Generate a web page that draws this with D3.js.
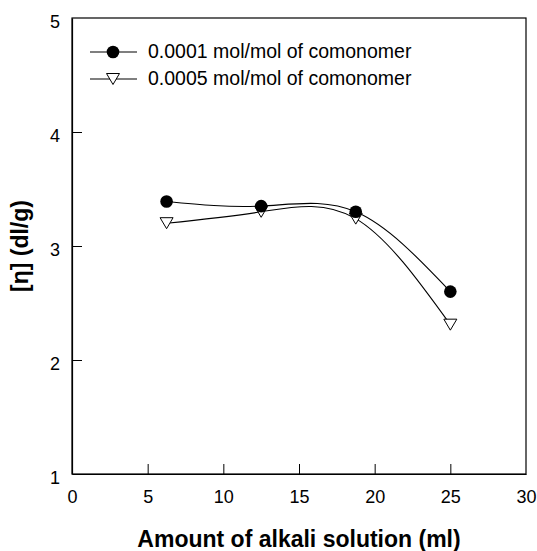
<!DOCTYPE html>
<html><head><meta charset="utf-8">
<script src="https://cdn.jsdelivr.net/npm/d3@7"></script>
<style>body{margin:0;background:#fff}svg{display:block}text{font-family:"Liberation Sans",Arial,sans-serif;fill:#000}</style>
</head><body><svg id="c" width="537" height="551"></svg>
<script>
const xValues = [6.25, 12.5, 18.75, 25];
const series1Name = "0.0001 mol/mol of comonomer";
const series1 = [3.39, 3.35, 3.30, 2.60];
const series2Name = "0.0005 mol/mol of comonomer";
const series2 = [3.20, 3.30, 3.24, 2.31];
const xTicks = [0, 5, 10, 15, 20, 25, 30];
const yTicks = [1, 2, 3, 4, 5];
const xTitle = "Amount of alkali solution (ml)";
const yTitle = "[η] (dl/g)";

const svg = d3.select("#c");
const L = 72, R = 526, T = 18, B = 474;
const x = d3.scaleLinear().domain([0, 30]).range([L, R]);
const y = d3.scaleLinear().domain([1, 5]).range([B, T]);

svg.append("rect").attr("x", L).attr("y", T).attr("width", R - L).attr("height", B - T)
  .attr("fill", "none").attr("stroke", "#000").attr("stroke-width", 1.2);

const xAxis = svg.append("g").attr("transform", `translate(0,${B})`)
  .call(d3.axisBottom(x).tickValues(xTicks).tickFormat(d3.format("d")).tickSizeInner(-10).tickSizeOuter(0).tickPadding(16));
const yAxis = svg.append("g").attr("transform", `translate(${L},0)`)
  .call(d3.axisLeft(y).tickValues(yTicks).tickFormat(d3.format("d")).tickSizeInner(-10).tickSizeOuter(0).tickPadding(12));
[xAxis, yAxis].forEach(g => {
  g.select(".domain").attr("stroke", "#000").attr("stroke-width", 1.2);
  g.selectAll(".tick line").attr("stroke", "#000").attr("stroke-width", 1);
  g.selectAll(".tick text").attr("font-size", 18).attr("font-family", "Liberation Sans, Arial, sans-serif");
});
yAxis.selectAll(".tick text").attr("dy", "0.5em");
xAxis.selectAll(".tick").filter(d => d === 0 || d === 30).select("line").remove();
yAxis.selectAll(".tick").filter(d => d === 1 || d === 5).select("line").remove();

svg.append("text").attr("x", (L + R) / 2).attr("y", 547).attr("text-anchor", "middle")
  .attr("font-size", 23).attr("font-weight", "bold").text(xTitle);
svg.append("text").attr("transform", `translate(28,${(T + B) / 2}) rotate(-90)`)
  .attr("text-anchor", "middle").attr("font-size", 23).attr("font-weight", "bold").text(yTitle);

const line = d3.line().x(d => x(d[0])).y(d => y(d[1])).curve(d3.curveNatural);
const d1 = xValues.map((v, i) => [v, series1[i]]);
const d2 = xValues.map((v, i) => [v, series2[i]]);
svg.append("path").attr("d", line(d2)).attr("fill", "none").attr("stroke", "#000").attr("stroke-width", 1.1);
svg.append("path").attr("d", line(d1)).attr("fill", "none").attr("stroke", "#000").attr("stroke-width", 1.1);

const tri = (cx, cy) => {
  const w = 6.5, h = 5.5;
  return `M${cx - w},${cy - h}L${cx + w},${cy - h}L${cx},${cy + h}Z`;
};
svg.selectAll(".t").data(d2).enter().append("path")
  .attr("d", d => tri(x(d[0]), y(d[1]))).attr("fill", "#fff").attr("stroke", "#000").attr("stroke-width", 1);
svg.selectAll(".c").data(d1).enter().append("circle")
  .attr("cx", d => x(d[0])).attr("cy", d => y(d[1])).attr("r", 6.3).attr("fill", "#000");

const lg = svg.append("g");
const rows = [{name: series1Name, type: "c", yy: 52}, {name: series2Name, type: "t", yy: 79}];
rows.forEach(r => {
  lg.append("line").attr("x1", 90).attr("x2", 137).attr("y1", r.yy).attr("y2", r.yy).attr("stroke", "#000").attr("stroke-width", 1.1);
  if (r.type === "c") lg.append("circle").attr("cx", 113).attr("cy", r.yy).attr("r", 6.3).attr("fill", "#000");
  else lg.append("path").attr("d", tri(113, r.yy)).attr("fill", "#fff").attr("stroke", "#000");
  lg.append("text").attr("x", 148).attr("y", r.yy + 6).attr("font-size", 19.5).text(r.name);
});
</script></body></html>
